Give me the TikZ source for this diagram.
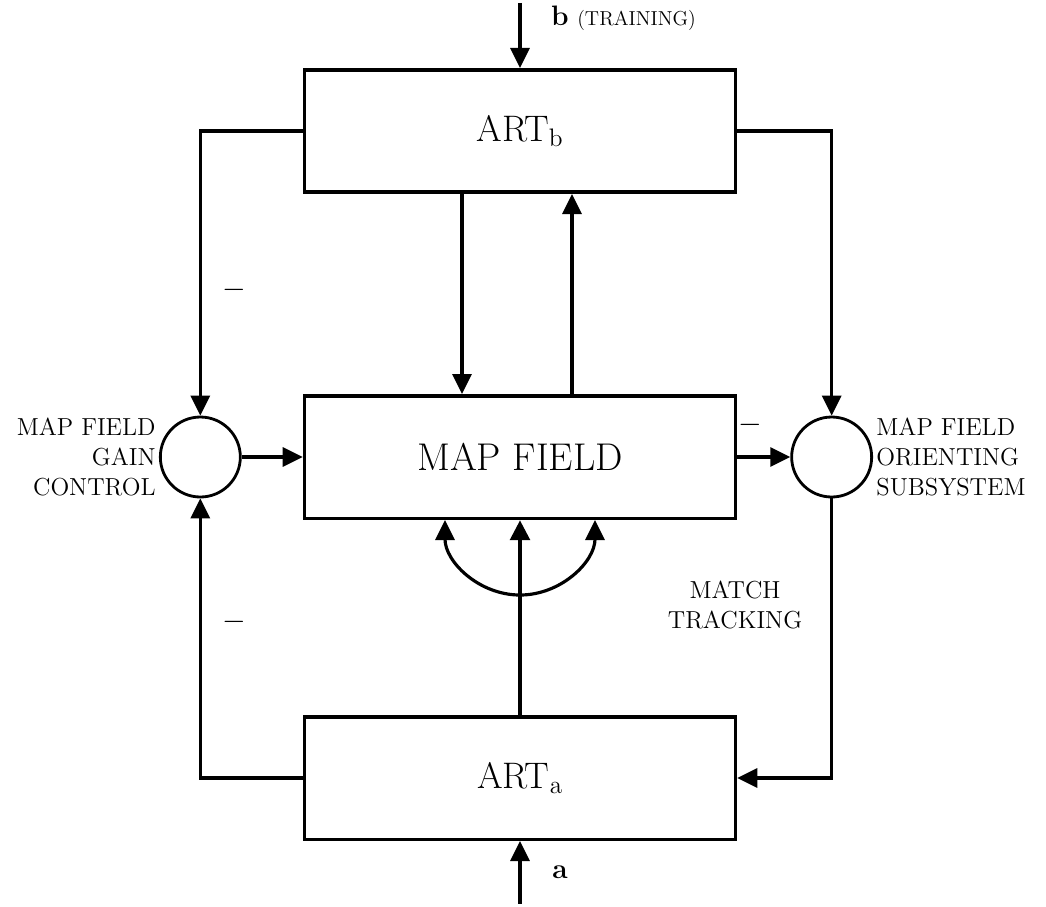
\documentclass[tikz,border=0pt]{standalone}
\usepackage{amsmath}
\usepackage{tikz}
\usetikzlibrary{positioning,arrows.meta}

\begin{document}
\begin{tikzpicture}[
  node distance=4cm and 1.2cm,
  block/.style={rectangle, draw, line width=2pt, minimum width=8.62cm, minimum height=2.45cm, inner sep=0pt},
  junction/.style={circle, draw, line width=1.6pt, minimum size=1.6cm, inner sep=0pt},
  arr/.style={-{Triangle[length=4mm,width=3.8mm]}, line width=1.8pt},
  lbl/.style={font=\fontsize{14}{17}\selectfont, inner sep=0pt},
  minus/.style={font=\fontsize{18}{20}\selectfont, inner sep=0pt}
]
\useasboundingbox (0,0) rectangle (20.92,-18.14);
\node[block, font=\fontsize{21}{24}\selectfont] (artb) at (10.4,-2.62) {ART$_{\mathrm{b}}$};
\node[block, below=of artb, font=\fontsize{22}{26}\selectfont] (mapfield) {MAP FIELD};
\node[block, below=3.9cm of mapfield, font=\fontsize{21}{24}\selectfont] (arta) {ART$_{\mathrm{a}}$};
\node[junction, left=1.22cm of mapfield] (gainctl) {};
\node[junction, right=1.06cm of mapfield] (orient) {};
\node[lbl, left=0.06cm of gainctl, align=right] (gainlbl) {MAP FIELD\\GAIN\\CONTROL};
\node[lbl, right=0.06cm of orient, align=left] (orientlbl) {MAP FIELD\\ORIENTING\\SUBSYSTEM};
\coordinate[above=1.3cm of artb.north] (bin);
\coordinate[below=1.25cm of arta.south] (ain);
% inputs
\draw[arr] (bin) -- (artb.north);
\node[anchor=west, font=\fontsize{16}{18}\selectfont] (blbl) at ([xshift=0.5cm,yshift=-0.3cm]bin) {\textbf{b} {\fontsize{11.5}{13}\selectfont(TRAINING)}};
\draw[arr] (ain) -- node[right=0.5cm, font=\fontsize{16}{18}\selectfont\bfseries] {a} (arta.south);
% art_b <-> map field
\draw[arr] ([xshift=-1.16cm]artb.south) -- ([xshift=-1.16cm]mapfield.north);
\draw[arr] ([xshift=1.04cm]mapfield.north) -- ([xshift=1.04cm]artb.south);
% gain control
\draw[arr] (artb.west) -| node[pos=0.78, right=0.42cm, minus] {$-$} (gainctl.north);
\draw[arr] (arta.west) -| node[pos=0.78, right=0.42cm, minus] {$-$} (gainctl.south);
\draw[arr] (gainctl.east) -- (mapfield.west);
% orienting subsystem
\draw[arr] (artb.east) -| (orient.north);
\draw[arr] (mapfield.east) -- node[pos=0.25, yshift=0.64cm, minus] {$-$} (orient.west);
\draw[arr] (orient.south) |- (arta.east);
% match tracking
\draw[arr, line width=2.8pt] (arta.north) -- (mapfield.south);
\draw[{Triangle[length=4mm,width=3.8mm]}-{Triangle[length=4mm,width=3.8mm]}, line width=1.8pt] ([xshift=-1.5cm]mapfield.south) arc[start angle=180, end angle=360, radius=1.5cm];
\node[lbl, align=center] (matchlbl) at ([xshift=4.3cm,yshift=-1.7cm]mapfield.south) {MATCH\\TRACKING};
\end{tikzpicture}
\end{document}
